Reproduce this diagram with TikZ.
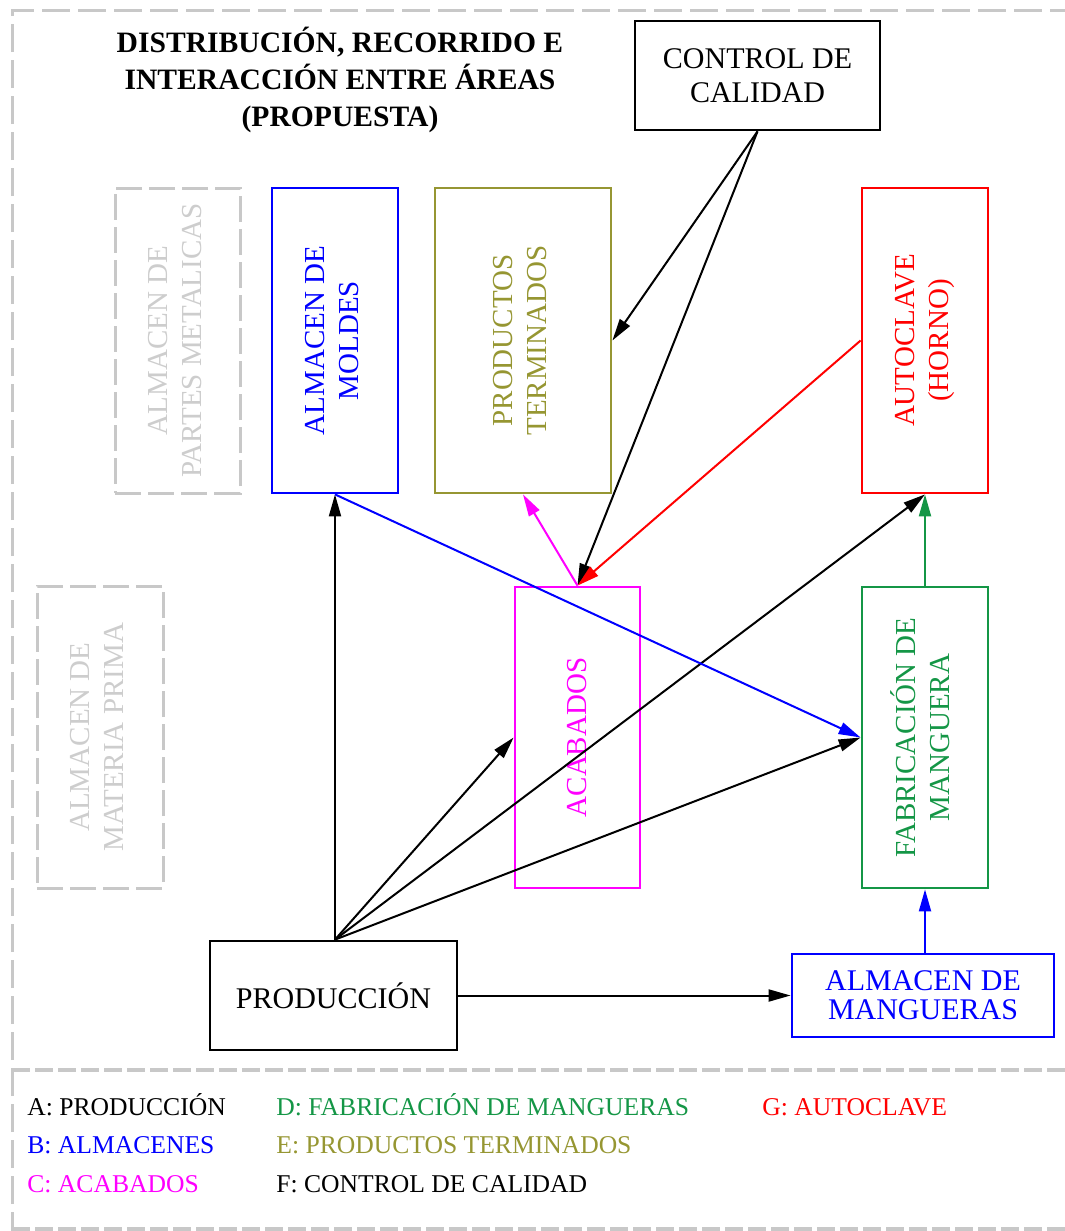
\documentclass[tikz,border=0pt]{standalone}
\usepackage{fontspec}
\usepackage{graphicx}
\setmainfont{Liberation Serif}
\usetikzlibrary{arrows.meta,calc}

\definecolor{olivebox}{RGB}{150,150,50}
\definecolor{greenbox}{RGB}{20,150,70}
\definecolor{pinkbox}{RGB}{255,0,255}
\definecolor{grayline}{RGB}{200,200,200}
\definecolor{graytext}{RGB}{205,205,205}

% two lines of text set reading upwards
\newcommand{\uplines}[2]{\rotatebox{90}{\begin{tabular}{@{}c@{}}#1\\#2\end{tabular}}}

\tikzset{
  area/.style={draw, line width=1.4pt, inner sep=0pt, align=center,
    font=\fontsize{14.5}{17}\selectfont},
  ghost/.style={draw=grayline, line width=1.5pt, dash pattern=on 13pt off 3.5pt,
    text=graytext, inner sep=0pt, font=\fontsize{14.5}{17}\selectfont},
  link/.style={line width=1pt, -{Triangle[length=11pt,width=6pt]}},
  frame/.style={draw=grayline, line width=1.5pt, dash pattern=on 14pt off 4pt},
  rule/.style={draw=grayline, line width=2pt, dash pattern=on 9pt off 2.5pt},
  legend/.style={anchor=base west, inner sep=0pt, font=\fontsize{12.8}{15}\selectfont},
}

\begin{document}
\begin{tikzpicture}[x=0.5pt, y=-0.5pt]
  \path[use as bounding box] (0,0) rectangle (1065,1231);
  \clip (0,0) rectangle (1065,1231);

  % sheet frame and legend separator
  \draw[frame] (12,1240) -- (12,10) -- (1090,10);
  \draw[rule] (12,1070) -- (1090,1070);
  \draw[rule] (12,1229) -- (1090,1229);

  % title
  \node[font=\bfseries\fontsize{14.8}{18.5}\selectfont, align=center] (title) at (340,80)
    {DISTRIBUCIÓN, RECORRIDO E\\INTERACCIÓN ENTRE ÁREAS\\(PROPUESTA)};

  % areas
  \node[area, minimum width=122.5pt, minimum height=54.5pt, font=\fontsize{15}{17}\selectfont] (ctrl) at (757.5,75.5)
    {CONTROL DE\\CALIDAD};
  \node[ghost, minimum width=62.5pt, minimum height=152.5pt] (metal) at (177.5,340.5)
    {\uplines{ALMACEN DE}{PARTES METALICAS}};
  \node[area, draw=blue, text=blue, minimum width=63pt, minimum height=152.5pt] (moldes) at (335,340.5)
    {\uplines{ALMACEN DE}{MOLDES}};
  \node[area, draw=olivebox, text=olivebox, minimum width=88pt, minimum height=152.5pt] (term) at (523,340.5)
    {\uplines{PRODUCTOS}{TERMINADOS}};
  \node[area, draw=red, text=red, minimum width=63pt, minimum height=152.5pt] (auto) at (925,340.5)
    {\uplines{AUTOCLAVE}{(HORNO)}};
  \node[ghost, minimum width=63pt, minimum height=151pt] (prima) at (100,737)
    {\uplines{ALMACEN DE}{MATERIA PRIMA}};
  \node[area, draw=pinkbox, text=pinkbox, minimum width=62.5pt, minimum height=150.5pt] (acab) at (577.5,737.5)
    {\rotatebox{90}{ACABADOS}};
  \node[area, draw=greenbox, text=greenbox, minimum width=63pt, minimum height=150.5pt] (fabr) at (925,737.5)
    {\uplines{FABRICACIÓN DE}{MANGUERA}};
  \node[area, minimum width=123.5pt, minimum height=54.5pt, font=\fontsize{15}{17}\selectfont] (prod) at (333.5,995.5)
    {PRODUCCIÓN};
  \node[area, draw=blue, text=blue, minimum width=131pt, minimum height=41.5pt, font=\fontsize{15}{14.5}\selectfont] (mang) at (923,995.5)
    {ALMACEN DE\\MANGUERAS};

  % flows leaving production
  \coordinate (hub) at (prod.north -| moldes.south);
  \draw[link] (hub) -- (moldes.south);
  \draw[link] (hub) -- (acab.west);
  \draw[link] (hub) -- (auto.south);
  \draw[link] (hub) -- (fabr.west);
  \draw[link] (prod.east) -- (mang.west);

  % remaining flows between areas
  \draw[link, blue] (moldes.south) -- (fabr.west);
  \draw[link] (ctrl.south) -- (term.east);
  \draw[link] (ctrl.south) -- (acab.north);
  \draw[link, red] (auto.west) -- (acab.north);
  \draw[link, pinkbox] (acab.north) -- (term.south);
  \draw[link, greenbox] (fabr.north) -- (auto.south);
  \draw[link, blue] (fabr.south |- mang.north) -- (fabr.south);

  % legend
  \node[legend] (la) at (27,1115) {A: PRODUCCIÓN};
  \node[legend, text=blue] (lb) at (27,1153) {B: ALMACENES};
  \node[legend, text=pinkbox] (lc) at (27,1192) {C: ACABADOS};
  \node[legend, text=greenbox] (ld) at (276,1115) {D: FABRICACIÓN DE MANGUERAS};
  \node[legend, text=olivebox] (le) at (276,1153) {E: PRODUCTOS TERMINADOS};
  \node[legend] (lf) at (276,1192) {F: CONTROL DE CALIDAD};
  \node[legend, text=red] (lg) at (762,1115) {G: AUTOCLAVE};
\end{tikzpicture}
\end{document}
